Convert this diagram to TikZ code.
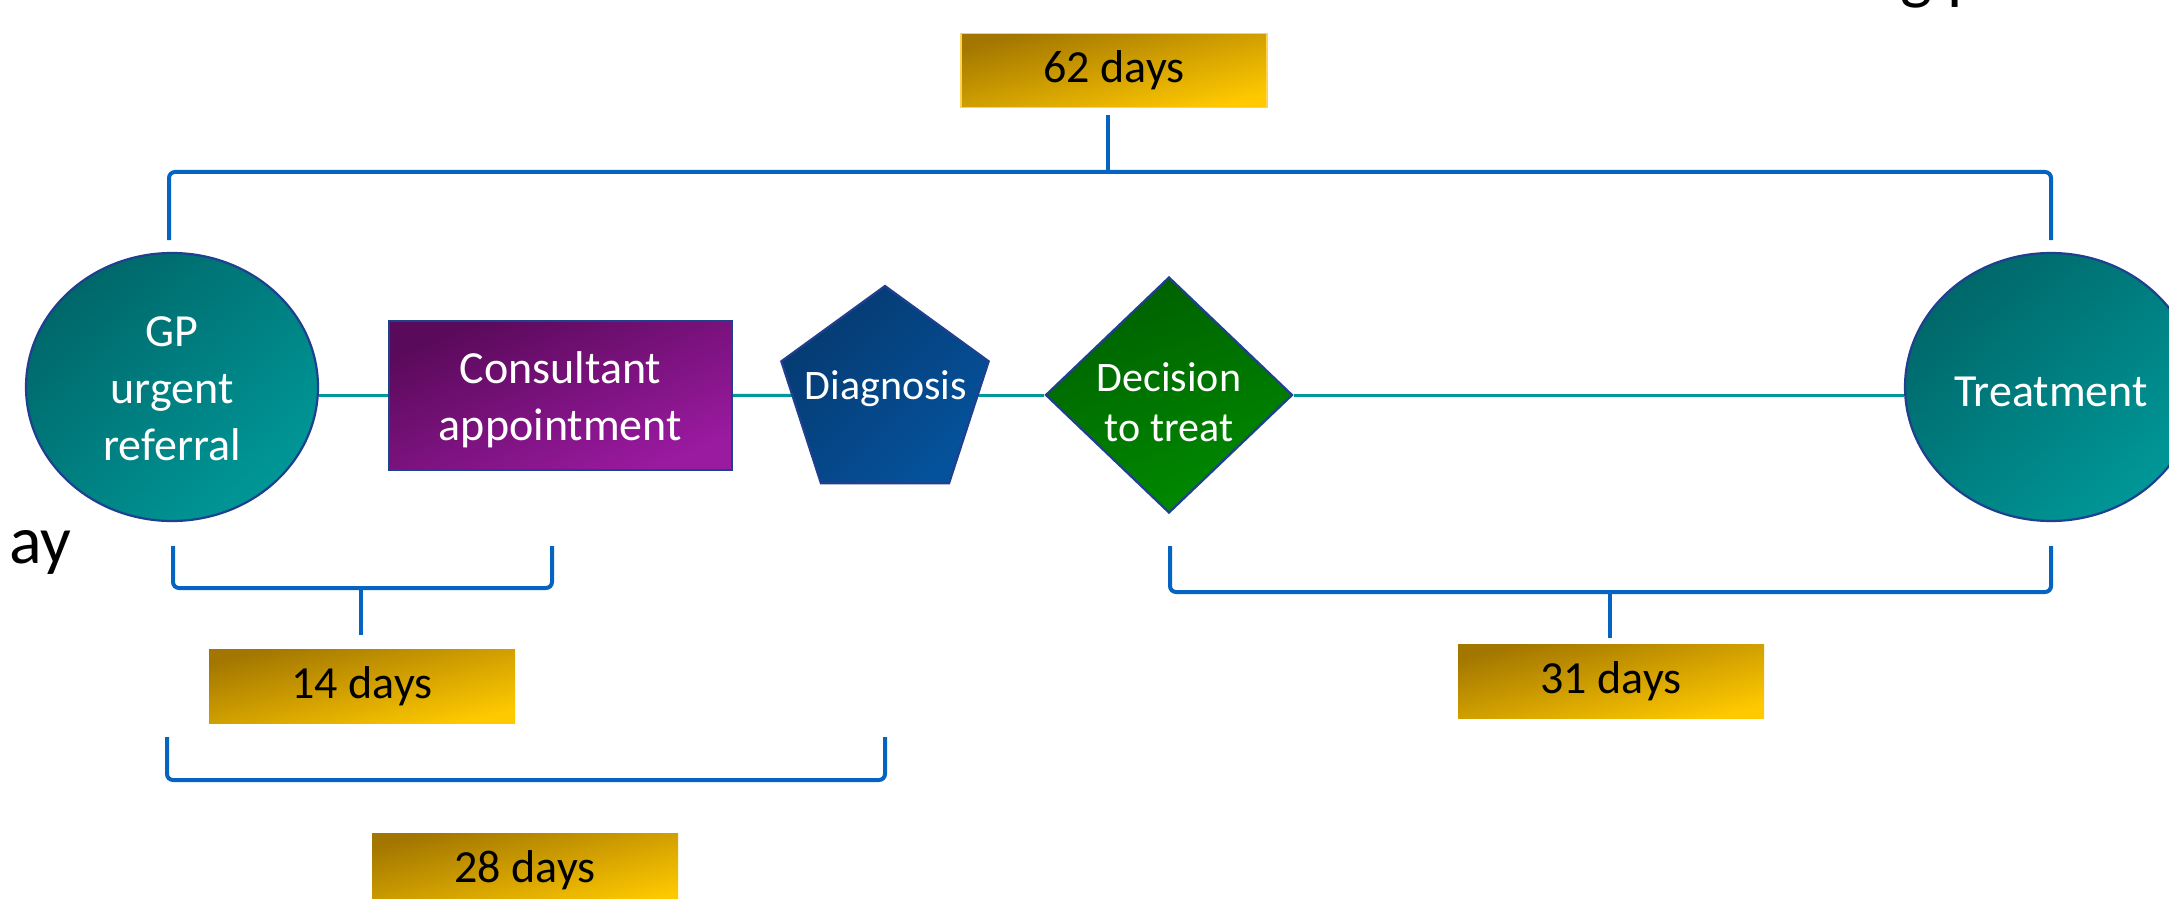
\documentclass[tikz,border=0pt]{standalone}
\usepackage{fontspec}
\setmainfont{Carlito}
\usetikzlibrary{shapes.geometric,backgrounds}
\definecolor{tealA}{HTML}{00676A}
\definecolor{tealB}{HTML}{009797}
\definecolor{purpA}{HTML}{5A0A5A}
\definecolor{purpB}{HTML}{9A1AA0}
\definecolor{blueA}{HTML}{053A70}
\definecolor{blueB}{HTML}{05529C}
\definecolor{grnA}{HTML}{006000}
\definecolor{grnB}{HTML}{008A00}
\definecolor{goldA}{HTML}{A27600}
\definecolor{goldB}{HTML}{FFC900}
\definecolor{edgeblue}{HTML}{1F3F8F}
\definecolor{brkblue}{HTML}{0563C1}
\definecolor{conncol}{HTML}{00989A}
\definecolor{goldedge}{HTML}{FFD34F}
\begin{document}
\begin{tikzpicture}[x=0.5pt,y=-0.5pt,
  shp/.style={draw=edgeblue, line width=1.1pt, inner sep=0pt},
  tealshade/.style={top color=tealA, bottom color=tealB, shading angle=42},
  wtxt/.style={text=white, align=center, inner sep=0pt, font=\fontsize{23}{28.5}\selectfont},
  wtxts/.style={text=white, align=center, inner sep=0pt, font=\fontsize{21}{25}\selectfont},
  daybox/.style={top color=goldA, bottom color=goldB, shading angle=14, minimum width=153pt, minimum height=37pt, inner sep=0pt, text=black, font=\fontsize{23}{28}\selectfont},
  brk/.style={draw=brkblue, line width=2pt, rounded corners=3pt},
  conn/.style={draw=conncol, line width=1.5pt},
  bigtxt/.style={text=black, inner sep=0pt, font=\fontsize{34}{40}\selectfont}
]
\useasboundingbox (0,0) rectangle (2169,899);

% process shapes
\node[shp, ellipse, tealshade, minimum width=146pt, minimum height=134pt] (gp) at (172,387) {};
\node[wtxt] (gptxt) at (172,389) {GP\\urgent\\referral};
\node[shp, rectangle, top color=purpA, bottom color=purpB, shading angle=23, minimum width=171.5pt, minimum height=74.5pt] (cons) at (560.5,395.5) {};
\node[wtxt] (constxt) at (560.5,400) {Consultant\\appointment};
\node[shp, regular polygon, regular polygon sides=5, top color=blueA, bottom color=blueB, shading angle=45, minimum size=109pt] (diag) at (885,395) {};
\node[wtxts] (diagtxt) at (886,389) {Diagnosis};
\node[shp, diamond, top color=grnA, bottom color=grnB, shading angle=20, minimum width=123.5pt, minimum height=118pt] (dec) at (1169,395) {};
\node[wtxts] (dectxt) at (1169,402) {Decision\\to treat};
\node[shp, ellipse, tealshade, minimum width=146pt, minimum height=134pt] (treat) at (2051,387) {};
\node[wtxt] (treattxt) at (2051,392) {Treatment};

% connectors behind the shapes
\begin{pgfonlayer}{background}
\fill[white] (0,0) rectangle (2169,899);
\draw[conn] (cons.west -| gp.east) -- (cons.west);
\draw[conn] (cons.east) -- (diag.center);
\draw[conn] (diag.center) -- (dec.west);
\draw[conn] (dec.east) -- (dec.east -| treat.west);
\end{pgfonlayer}

% day boxes
\node[daybox, draw=goldedge, line width=0.8pt] (d62) at (1114,70.5) {62 days};
\node[daybox] (d14) at (362,686) {14 days};
\node[daybox] (d28) at (525,870) {28 days};
\node[daybox] (d31) at (1611,681.5) {31 days};

% brackets
\coordinate (t62) at (1108,172);
\draw[brk] (169,240) -- (169,172) -- (2051,172) -- (2051,240);
\draw[brk, rounded corners=0pt, shorten <=3.5pt] (t62 |- d62.south) -- (t62);

\coordinate (t14) at (361,588);
\draw[brk] (173,546) -- (173,588) -- (552,588) -- (552,546);
\draw[brk, rounded corners=0pt, shorten >=7pt] (t14) -- (t14 |- d14.north);

\draw[brk] (167,737) -- (167,780) -- (885,780) -- (885,737);

\coordinate (t31) at (1610,592);
\draw[brk] (1170,546) -- (1170,592) -- (2051,592) -- (2051,546);
\draw[brk, rounded corners=0pt, shorten >=3pt] (t31) -- (t31 |- d31.north);

% cut-off text at the edges
\node[bigtxt, anchor=base east] (ay) at (72,563) {ay};
\node[bigtxt, anchor=base west] (gpfrag) at (1900,-3) {g p};
\end{tikzpicture}
\end{document}
